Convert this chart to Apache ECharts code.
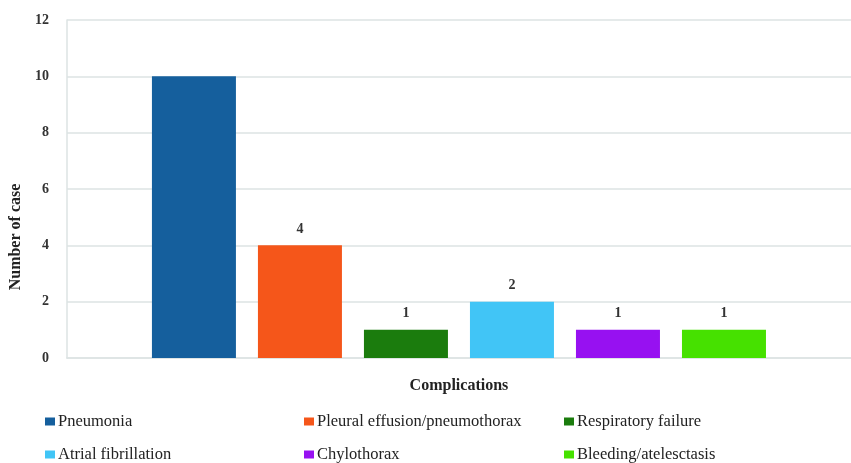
<!DOCTYPE html>
<html>
<head>
<meta charset="utf-8">
<script src="https://cdn.jsdelivr.net/npm/echarts@6/dist/echarts.min.js"></script>
<style>
  html, body { margin: 0; padding: 0; background: #fff; }
  #chart { width: 851px; height: 463px; }
</style>
</head>
<body>
<div id="chart"></div>
<script>
// Postoperative complications, number of cases each
const complications = [
  'Pneumonia',
  'Pleural effusion/pneumothorax',
  'Respiratory failure',
  'Atrial fibrillation',
  'Chylothorax',
  'Bleeding/atelesctasis'
];
const cases = [10, 4, 1, 2, 1, 1];
const yTicks = [0, 2, 4, 6, 8, 10, 12];

const palette = ['#155f9d', '#f5561a', '#1b7c0d', '#41c5f6', '#9711f1', '#46e100'];
const FONT = 'Liberation Serif';

// legend slots: three columns, two rows
const legendCols = [45, 304, 564];
const legendRows = [413, 446];

const series = complications.map((name, i) => ({
  name: name,
  type: 'bar',
  data: [cases[i]],
  barWidth: 84,
  barGap: '26.2%',
  itemStyle: { color: palette[i] },
  label: {
    show: i > 0,   // the tallest bar carries no value label
    position: 'top',
    distance: 9,
    color: '#333',
    fontFamily: FONT,
    fontWeight: 'bold',
    fontSize: 14
  }
}));

const legends = complications.map((name, i) => ({
  data: [name],
  left: legendCols[i % 3],
  top: legendRows[Math.floor(i / 3)],
  padding: 0,
  itemWidth: 10,
  itemHeight: 8,
  icon: 'rect',
  textStyle: { fontFamily: FONT, fontSize: 16.5, color: '#222', padding: [0, 0, 0, -2] },
  selectedMode: false
}));

const chart = echarts.init(document.getElementById('chart'));
chart.setOption({
  animation: false,
  textStyle: { fontFamily: FONT },
  grid: { left: 63, width: 802, top: 20, bottom: 105, containLabel: false },
  legend: legends,
  xAxis: {
    type: 'category',
    data: ['Complications'],
    name: 'Complications',
    nameLocation: 'middle',
    nameGap: 20,
    nameTextStyle: { fontFamily: FONT, fontWeight: 'bold', fontSize: 16, color: '#222' },
    axisLabel: { show: false },
    axisTick: { show: false },
    axisLine: { lineStyle: { color: '#dde3e3', width: 1.5 } }
  },
  yAxis: {
    type: 'value',
    min: yTicks[0],
    max: yTicks[yTicks.length - 1],
    interval: yTicks[1] - yTicks[0],
    name: 'Number of case',
    nameLocation: 'middle',
    nameGap: 35,
    nameTextStyle: {
      fontFamily: FONT, fontWeight: 'bold', fontSize: 16, color: '#222',
      padding: [0, 96, 0, 0]
    },
    axisLine: { show: true, lineStyle: { color: '#dde3e3', width: 1.5 } },
    axisTick: { show: false },
    axisLabel: { margin: 18, color: '#333', fontFamily: FONT, fontWeight: 'bold', fontSize: 14 },
    splitLine: { lineStyle: { color: '#dde3e3', width: 1.5 } }
  },
  series: series
});
</script>
</body>
</html>
